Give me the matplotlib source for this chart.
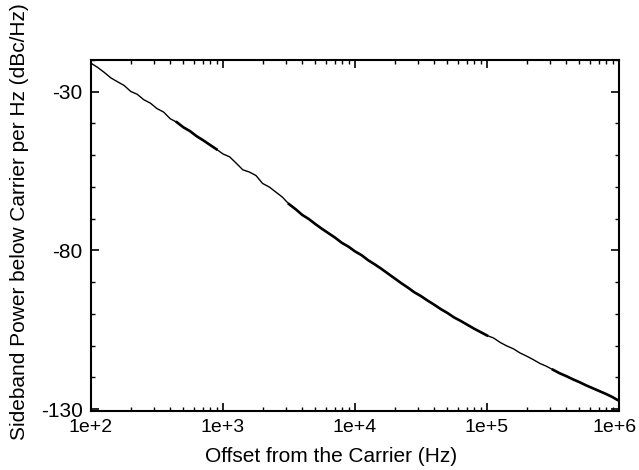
import numpy as np
import matplotlib
matplotlib.use('Agg')
import matplotlib.pyplot as plt
from matplotlib.ticker import LogLocator, FixedLocator, NullFormatter
from matplotlib.transforms import ScaledTranslation

plt.rcParams['font.family'] = ['Liberation Sans', 'DejaVu Sans']
plt.rcParams['axes.unicode_minus'] = False

# offset frequency (Hz) and sideband power (dBc/Hz)
offset_hz = [
    100, 112, 126, 141, 158, 178, 200, 224, 251, 282,
    316, 355, 398, 447, 501, 562, 631, 708, 794, 891,
    1000, 1122, 1259, 1413, 1585, 1778, 1995, 2239, 2512, 2818,
    3162, 3548, 3981, 4467, 5012, 5623, 6310, 7079, 7943, 8913,
    10000, 11220, 12590, 14130, 15850, 17780, 19950, 22390, 25120, 28180,
    31620, 35480, 39810, 44670, 50120, 56230, 63100, 70790, 79430, 89130,
    100000, 112200, 125900, 141300, 158500, 177800, 199500, 223900, 251200, 281800,
    316200, 354800, 398100, 446700, 501200, 562300, 631000, 707900, 794300, 891300,
    1000000,
]
power_dbc = [
    -21.0, -22.3, -23.9, -25.6, -26.8, -28.0, -29.9, -30.8, -32.5, -33.6,
    -35.3, -36.4, -38.5, -39.6, -41.2, -42.4, -44.0, -45.3, -46.7, -48.1,
    -49.6, -50.5, -52.5, -54.6, -55.3, -56.4, -58.9, -60.0, -61.6, -63.2,
    -65.4, -67.0, -68.8, -70.1, -71.7, -73.2, -74.6, -76.0, -77.6, -78.8,
    -80.3, -81.5, -83.1, -84.4, -85.8, -87.3, -88.8, -90.3, -91.7, -93.2,
    -94.4, -95.8, -97.1, -98.5, -99.7, -101.1, -102.2, -103.4, -104.6, -105.7,
    -106.8, -107.6, -109.0, -110.1, -111.0, -112.3, -113.3, -114.4, -115.6, -116.5,
    -117.6, -118.7, -119.6, -120.6, -121.5, -122.5, -123.4, -124.3, -125.2, -126.2,
    -127.4,
]
# stretches of the trace where the measurement is visibly noisier
noisy_ranges = [(400, 900), (3000, 100000), (300000, 1000000)]

y_ticks = [-30, -80, -130]
x_ticks = [1e2, 1e3, 1e4, 1e5, 1e6]
x_tick_labels = ['1e+2', '1e+3', '1e+4', '1e+5', '1e+6']

f = np.array(offset_hz, dtype=float)
p = np.array(power_dbc)

fig = plt.figure(figsize=(6.39, 4.70), dpi=100)
ax = fig.add_axes([0.1424, 0.1262, 0.8263, 0.7461])

ax.plot(f, p, color='black', lw=1.0)
for lo, hi in noisy_ranges:
    m = (f >= lo) & (f <= hi)
    ax.plot(f[m], p[m], color='black', lw=1.9, solid_joinstyle='round')

ax.set_xscale('log')
ax.set_xlim(1e2, 1e6)
ax.set_ylim(-130.5, -20)

ax.xaxis.set_major_locator(FixedLocator(x_ticks))
ax.set_xticklabels(x_tick_labels)
ax.xaxis.set_minor_locator(LogLocator(base=10, subs=np.arange(2, 10)))
ax.xaxis.set_minor_formatter(NullFormatter())
ax.set_yticks(y_ticks)
ax.yaxis.set_minor_locator(FixedLocator(np.arange(-130, -19, 10)))

ax.tick_params(which='both', direction='in', top=True, right=True, colors='black')
ax.tick_params(axis='y', labelsize=15)
ax.tick_params(axis='x', labelsize=14)
ax.tick_params(which='major', length=6, width=1.2, pad=6)
ax.tick_params(which='minor', length=3, width=1.0)

# last x label sits a bit left so it stays inside the picture
last = ax.get_xticklabels()[-1]
last.set_transform(last.get_transform() + ScaledTranslation(-0.04, 0, fig.dpi_scale_trans))

for s in ax.spines.values():
    s.set_linewidth(1.5)

ax.set_xlabel('Offset from the Carrier (Hz)', fontsize=15)
ax.set_ylabel('Sideband Power below Carrier per Hz (dBc/Hz)', fontsize=15)
ax.xaxis.set_label_coords(0.4545, -0.104)
ax.yaxis.set_label_coords(-0.118, 0.54)

fig.savefig('out.png', dpi=100)
